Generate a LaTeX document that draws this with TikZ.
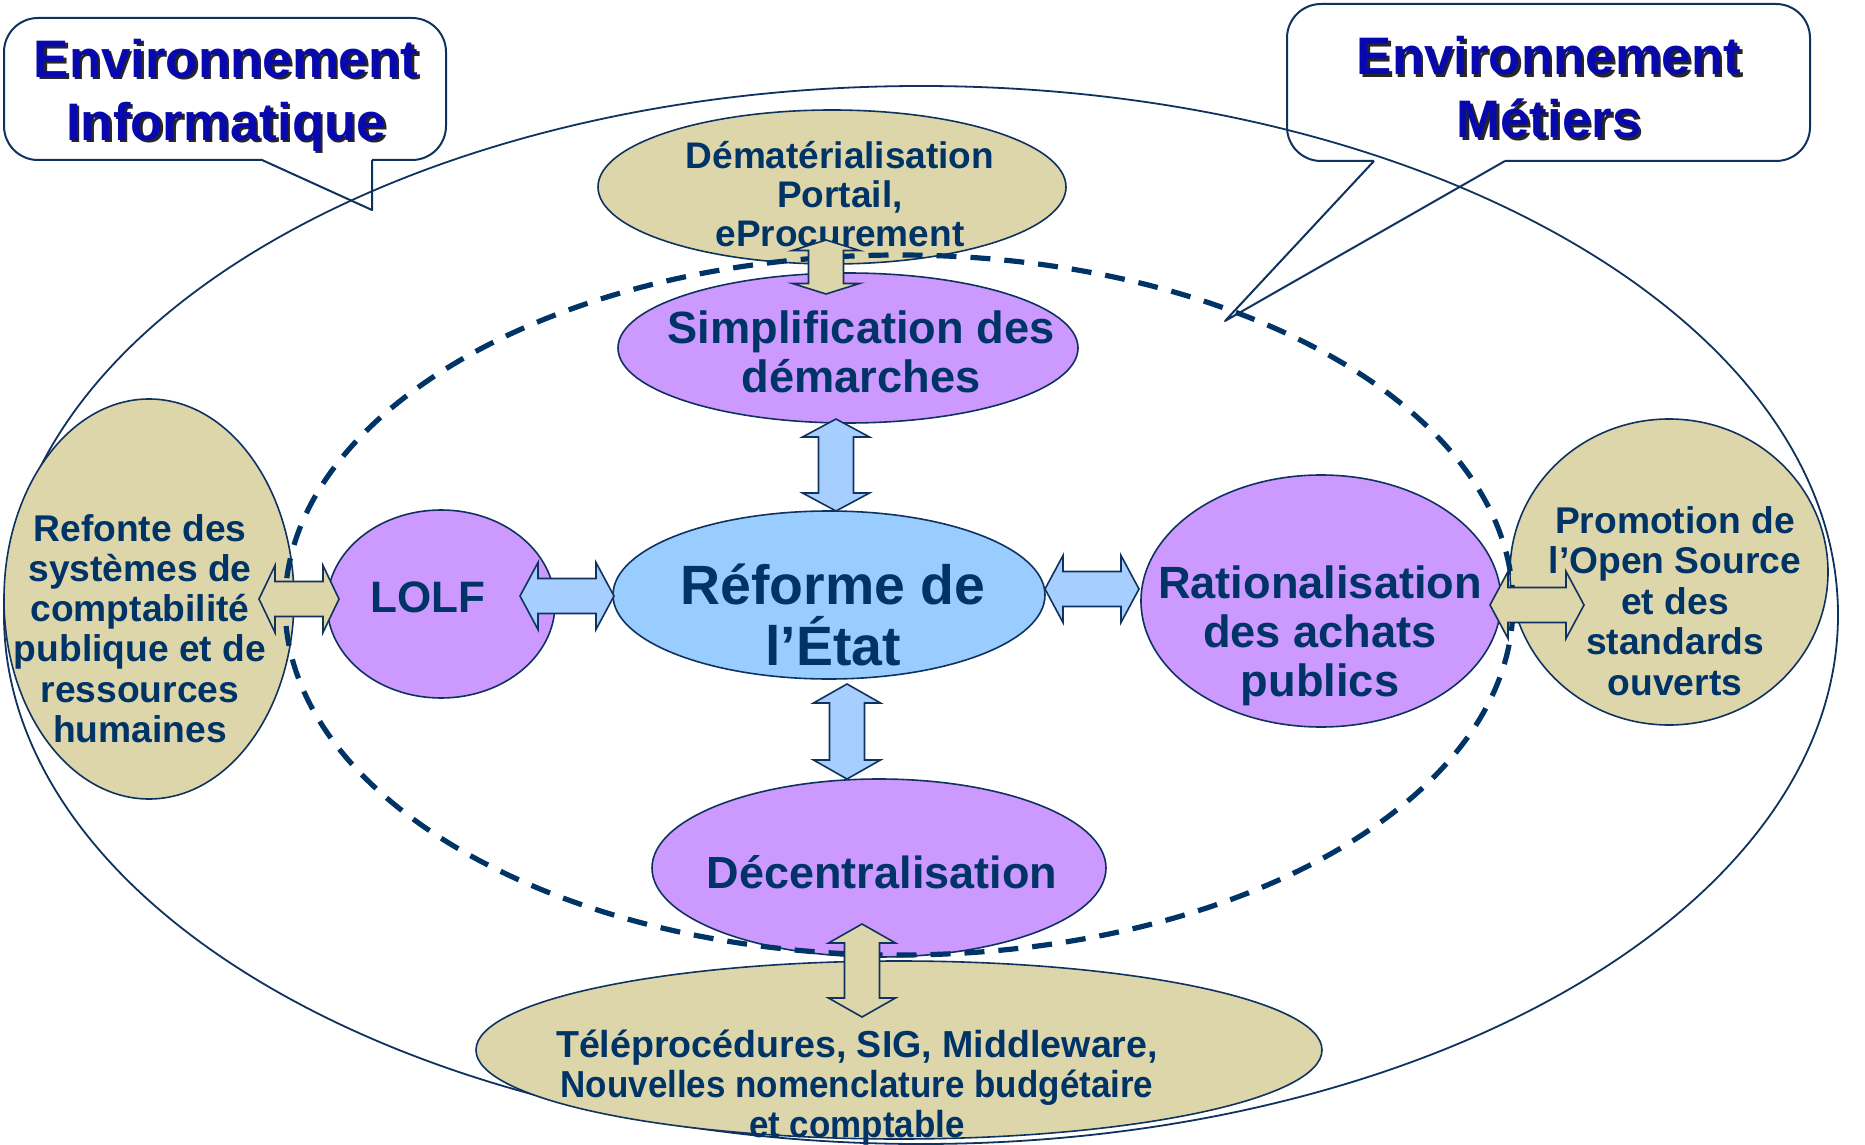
\documentclass[tikz,border=0pt]{standalone}
\usepackage{fontspec}
\usepackage{graphicx}
\setmainfont{Liberation Sans}
\usetikzlibrary{shapes.geometric}
\definecolor{tanfill}{RGB}{221,214,171}
\definecolor{lilac}{RGB}{204,153,255}
\definecolor{sky}{RGB}{153,204,255}
\definecolor{arrowblue}{RGB}{166,207,255}
\definecolor{navy}{RGB}{0,51,102}
\definecolor{edge}{RGB}{15,50,95}
\definecolor{titleblue}{RGB}{8,8,175}
% vertical double block arrow: fill, x, ytop, ybottom, head length
\newcommand{\vdarrow}[5]{\draw[arrowedge, fill=#1] (#2,#3) -- ({#2+33.5},{#3+#5}) -- ({#2+17.5},{#3+#5}) -- ({#2+17.5},{#4-#5}) -- ({#2+33.5},{#4-#5}) -- (#2,#4) -- ({#2-33.5},{#4-#5}) -- ({#2-17.5},{#4-#5}) -- ({#2-17.5},{#3+#5}) -- ({#2-33.5},{#3+#5}) -- cycle;}
% horizontal double block arrow: fill, y, xleft, xright, head length
\newcommand{\hdarrow}[5]{\draw[arrowedge, fill=#1] (#3,#2) -- ({#3+#5},{#2-33.5}) -- ({#3+#5},{#2-17.5}) -- ({#4-#5},{#2-17.5}) -- ({#4-#5},{#2-33.5}) -- (#4,#2) -- ({#4-#5},{#2+33.5}) -- ({#4-#5},{#2+17.5}) -- ({#3+#5},{#2+17.5}) -- ({#3+#5},{#2+33.5}) -- cycle;}
\begin{document}
\begin{tikzpicture}[x=0.5pt,y=-0.5pt,
  blob/.style={ellipse, draw=edge, line width=0.8pt, inner sep=0pt},
  tanblob/.style={blob, fill=tanfill},
  lilblob/.style={blob, fill=lilac},
  skyblob/.style={blob, fill=sky},
  lbl/.style={text=navy, align=center, inner sep=0pt},
  title/.style={align=center, inner sep=0pt, font=\fontsize{26.4}{31.5}\selectfont\bfseries},
  callout/.style={draw=edge, line width=1pt, line join=round},
  arrowedge/.style={draw=edge, line width=0.8pt, line join=miter}
]
\useasboundingbox (0,0) rectangle (1865,1145);

% outer ellipse
\node[ellipse, draw=edge, line width=0.9pt, minimum width=1834pt/2, minimum height=1058pt/2, inner sep=0pt] (outer) at (921,615) {};

% callouts
\draw[callout] (262,160) [rounded corners=17pt] -- (4,160) -- (4,18) -- (446,18) -- (446,160) -- (372,160);
\draw[callout] (262,160) -- (372,210) -- (372,160);
\coordinate (tipL) at (372,210);
\draw[callout] (1374,161) [rounded corners=17pt] -- (1287,161) -- (1287,4) -- (1810,4) -- (1810,161) -- (1505,161);
\coordinate (tipR) at (1225,321);
\draw[callout] (1374,161) -- (tipR) -- (1505,161);

\node[title, text=black!85] (infoS) at (228.5,97.5) {Environnement\\Informatique};
\node[title, text=titleblue] (info) at (226,95) {Environnement\\Informatique};
\node[title, text=black!85] (metS) at (1551.5,90) {Environnement\\Métiers};
\node[title, text=titleblue] (met) at (1549,87.5) {Environnement\\Métiers};

% tan ellipses
\node[tanblob, minimum width=234pt, minimum height=77pt] (dem) at (832,187) {};
\node[tanblob, minimum width=423pt, minimum height=89pt] (tele) at (899,1050) {};
\node[tanblob, minimum width=145pt, minimum height=200pt] (refonte) at (149,599) {};
\node[tanblob, minimum width=159pt, minimum height=153pt] (prom) at (1669,572) {};

% purple / blue ellipses
\node[lilblob, minimum width=230pt, minimum height=75pt] (simp) at (848,348) {};
\node[skyblob, minimum width=216pt, minimum height=84pt] (ref) at (829,595) {};
\node[lilblob, minimum width=114pt, minimum height=94pt] (lolf) at (441,604) {};
\node[lilblob, minimum width=180pt, minimum height=126pt] (rat) at (1321,601) {};
\node[lilblob, minimum width=227pt, minimum height=89pt] (dec) at (879,868) {};

% texts
\node[lbl, font=\fontsize{18.5}{19.5}\selectfont\bfseries] (demT) at (840,194) {Dématérialisation\\Portail,\\eProcurement};
\node[lbl, font=\fontsize{18.8}{20}\selectfont\bfseries] (teleT) at (857,1088) {Téléprocédures, SIG, Middleware,\\\scalebox{0.93}[1]{Nouvelles nomenclature budgétaire}\\\scalebox{0.93}[1]{et comptable}};
\node[lbl, font=\fontsize{18.6}{20.1}\selectfont\bfseries] (refonteT) at (140,628.5) {Refonte des\\systèmes de\\comptabilité\\publique et de\\ressources\\humaines};
\node[lbl, font=\fontsize{18.6}{20.3}\selectfont\bfseries] (promT) at (1675,601) {Promotion de\\l’Open Source\\et des\\standards\\ouverts};
\node[lbl, font=\fontsize{22.6}{24.5}\selectfont\bfseries] (simpT) at (861,352) {Simplification des\\démarches};
\node[lbl, font=\fontsize{27.7}{30.5}\selectfont\bfseries] (refT) at (833,615) {Réforme de\\l’État};
\node[lbl, font=\fontsize{22}{24}\selectfont\bfseries] (lolfT) at (428,597) {LOLF};
\node[lbl, font=\fontsize{22.6}{24.4}\selectfont\bfseries] (ratT) at (1320,636) {Rationalisation\\des achats\\publics};
\node[lbl, font=\fontsize{22.5}{24}\selectfont\bfseries] (decT) at (882,872) {Décentralisation};

% dashed ellipse
\node[ellipse, draw=navy, line width=2.6pt, dash pattern=on 10pt off 7pt, minimum width=614pt, minimum height=350pt, inner sep=0pt] (inner) at (899,605) {};

% block arrows
\vdarrow{tanfill}{826}{240}{294}{10.5}
\vdarrow{arrowblue}{836}{419}{511}{18}
\vdarrow{arrowblue}{847}{684}{779}{19}
\vdarrow{tanfill}{862}{924}{1017}{19}
\hdarrow{tanfill}{599}{259}{339}{16}
\hdarrow{arrowblue}{596}{520}{614}{18}
\hdarrow{arrowblue}{589}{1045}{1139}{18}
\hdarrow{tanfill}{605}{1490}{1584}{18}
\end{tikzpicture}
\end{document}
